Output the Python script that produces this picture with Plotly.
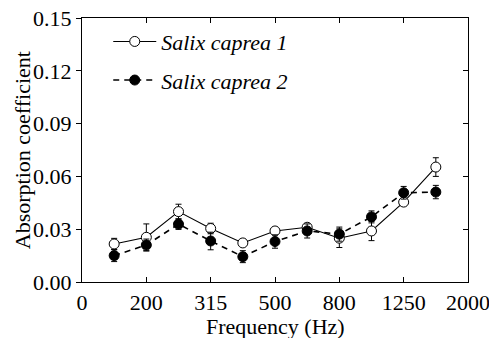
import plotly.graph_objects as go

# One-third octave band centre frequencies (Hz)
bands = [160, 200, 250, 315, 400, 500, 630, 800, 1000, 1250, 1600]

# Mean absorption coefficient and standard deviation for each sample
caprea1 = [0.0216, 0.0254, 0.0400, 0.0304, 0.0222, 0.0290, 0.0311, 0.0249, 0.0290, 0.0454, 0.0653]
caprea1_err = [0.0032, 0.0076, 0.0042, 0.0030, 0.0020, 0.0020, 0.0020, 0.0053, 0.0055, 0.0020, 0.0053]
caprea2 = [0.0150, 0.0210, 0.0329, 0.0233, 0.0144, 0.0230, 0.0290, 0.0272, 0.0370, 0.0507, 0.0511]
caprea2_err = [0.0034, 0.0034, 0.0030, 0.0050, 0.0034, 0.0038, 0.0040, 0.0040, 0.0034, 0.0036, 0.0038]

# Axis tick labels (every second band, starting one band below the first)
xtick_labels = ["0", "200", "315", "500", "800", "1250", "2000"]
ytick_vals = [0.00, 0.03, 0.06, 0.09, 0.12, 0.15]

# Bands are placed on an equally spaced axis, two bands per tick interval
xpos = [(i + 1) * 0.5 for i in range(len(bands))]

FONT = "Liberation Serif"
FS = 22

fig = go.Figure()

fig.add_trace(go.Scatter(
    x=xpos, y=caprea1, name="Salix caprea 1", mode="lines+markers",
    line=dict(color="black", width=1.1),
    marker=dict(symbol="circle", size=10, color="white",
                line=dict(color="black", width=1)),
    error_y=dict(type="data", array=caprea1_err, color="black",
                 thickness=1, width=3),
    legendgroup="a",
))
fig.add_trace(go.Scatter(
    x=xpos, y=caprea2, name="Salix caprea 2", mode="lines+markers",
    line=dict(color="black", width=1.6, dash="6px,5px"),
    marker=dict(symbol="circle", size=10, color="black",
                line=dict(color="black", width=1)),
    error_y=dict(type="data", array=caprea2_err, color="black",
                 thickness=1, width=3),
    legendgroup="b",
))
# invisible trace carrying the right-hand axis
fig.add_trace(go.Scatter(x=[0], y=[0], yaxis="y2", showlegend=False,
                         mode="markers", marker=dict(opacity=0),
                         hoverinfo="skip"))

fig.update_layout(
    width=489, height=338,
    margin=dict(l=82, r=21, t=18, b=56, autoexpand=False),
    paper_bgcolor="white", plot_bgcolor="white",
    font=dict(family=FONT, size=FS, color="black"),
    showlegend=True,
    legend=dict(
        x=0.068, y=0.99, xanchor="left", yanchor="top",
        bgcolor="rgba(0,0,0,0)",
        font=dict(family=FONT, size=FS, style="italic"),
        tracegroupgap=7, traceorder="grouped",
        itemwidth=43,
    ),
    xaxis=dict(
        range=[0, 6], tickmode="array", tickvals=list(range(7)),
        ticktext=xtick_labels, ticks="inside", ticklen=5,
        tickcolor="black", showline=True, linecolor="black", linewidth=1.3,
        mirror="ticks", showgrid=False, zeroline=False,
        ticklabeloverflow="allow", automargin=False,
        tickfont=dict(family=FONT, size=FS),
    ),
    yaxis=dict(
        range=[0, 0.15], tickmode="array", tickvals=ytick_vals,
        tickformat=".2f", ticks="outside", ticklen=5, tickcolor="black",
        showline=True, linecolor="black", linewidth=1.3, mirror=True,
        showgrid=False, zeroline=False, automargin=False,
        tickfont=dict(family=FONT, size=FS),
    ),
    yaxis2=dict(
        range=[0, 0.15], tickmode="array", tickvals=ytick_vals,
        overlaying="y", side="right", ticks="inside", ticklen=5,
        tickcolor="black", showticklabels=False, showgrid=False,
        zeroline=False, showline=False, automargin=False,
    ),
    annotations=[
        dict(text="Absorption coefficient", textangle=-90,
             xref="paper", yref="paper", x=-0.155, y=0.5,
             xanchor="center", yanchor="middle", showarrow=False,
             font=dict(family=FONT, size=FS)),
        dict(text="Frequency (Hz)",
             xref="paper", yref="paper", x=0.5, y=-0.168,
             xanchor="center", yanchor="middle", showarrow=False,
             font=dict(family=FONT, size=FS)),
    ],
)

fig.write_html("out.html")
